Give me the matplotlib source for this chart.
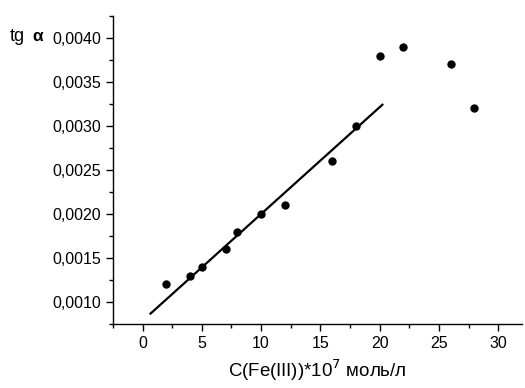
import matplotlib
matplotlib.use("Agg")
import matplotlib.pyplot as plt
from matplotlib.ticker import MultipleLocator, FuncFormatter

plt.rcParams['font.family'] = ['Liberation Sans', 'DejaVu Sans']

# экспериментальные точки
conc = [2, 4, 5, 7, 8, 10, 12, 16, 18, 20, 22, 26, 28]
tg_a = [0.0012, 0.0013, 0.0014, 0.0016, 0.0018, 0.0020, 0.0021,
        0.0026, 0.0030, 0.0038, 0.0039, 0.0037, 0.0032]

# линейный участок (концы прямой)
fit_x = [0.6, 20.3]
fit_y = [0.00086, 0.00325]

fig = plt.figure(figsize=(5.25, 3.88), dpi=100)
ax = fig.add_axes([0.2152, 0.1649, 0.7788, 0.7939])

ax.plot(fit_x, fit_y, color="black", lw=1.6, solid_capstyle="butt")
ax.plot(conc, tg_a, "o", color="black", ms=5)

ax.set_xlim(-2.5, 32)
ax.set_ylim(0.00075, 0.00425)

ax.spines["top"].set_visible(False)
ax.spines["right"].set_visible(False)
for s in ("left", "bottom"):
    ax.spines[s].set_linewidth(1.0)

ax.xaxis.set_major_locator(MultipleLocator(5))
ax.xaxis.set_minor_locator(MultipleLocator(2.5))
ax.yaxis.set_major_locator(MultipleLocator(0.0005))
ax.yaxis.set_minor_locator(MultipleLocator(0.00025))
ax.yaxis.set_major_formatter(FuncFormatter(lambda v, p: f"{v:.4f}".replace(".", ",")))

ax.tick_params(which="major", direction="out", length=5, width=1, labelsize=11.5)
ax.tick_params(which="minor", direction="out", length=3, width=1)

fig.text(0.019, 0.905, "tg", fontsize=13, va="center", ha="left")
fig.text(0.061, 0.905, "α", fontsize=12.5, fontweight="bold", va="center", ha="left")

ax.set_xlabel("C(Fe(III))*10$^{7}$ моль/л", fontsize=13.5, labelpad=5)

fig.savefig("out.png", dpi=100)
